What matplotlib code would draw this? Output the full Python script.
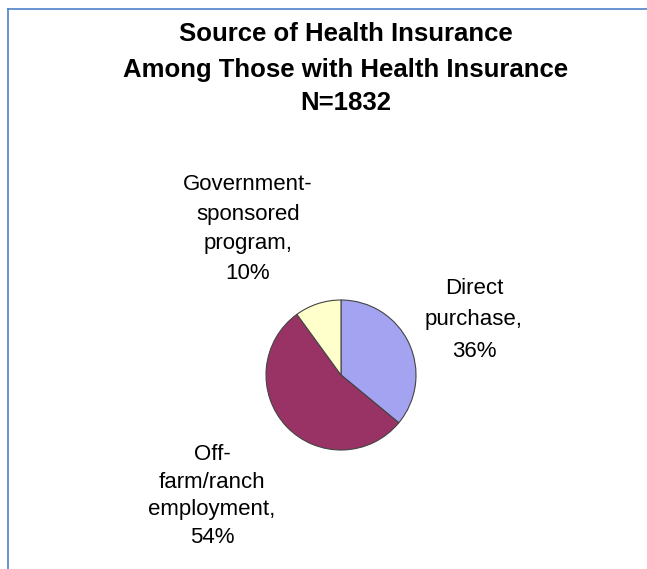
import matplotlib.pyplot as plt
from matplotlib.lines import Line2D

title_lines = ['Source of Health Insurance', 'Among Those with Health Insurance', 'N=1832']
categories = ['Direct purchase', 'Off-farm/ranch employment', 'Government-sponsored program']
shares = [36, 54, 10]
label_texts = ['Direct\npurchase,\n36%', 'Off-\nfarm/ranch\nemployment,\n54%',
               'Government-\nsponsored\nprogram,\n10%']
colors = ['#A3A3F2', '#993366', '#FFFFCC']

plt.rcParams['font.family'] = ['Liberation Sans', 'DejaVu Sans']

W, H = 647, 569
fig = plt.figure(figsize=(W / 100, H / 100), dpi=100)
fig.patch.set_facecolor('white')

# blue frame on top and left edge
fig.add_artist(Line2D([8 / W, 8 / W], [0, 1 - 9 / H], color='#4F81C9', lw=1.2))
fig.add_artist(Line2D([8 / W, 1], [1 - 9 / H, 1 - 9 / H], color='#4F81C9', lw=1.2))

for txt, y in zip(title_lines, [34, 70, 103]):
    fig.text(346 / W, 1 - y / H, txt, ha='center', va='center',
             fontsize=18.5, fontweight='bold')

# pie
cx, cy, r = 341, 375, 75
ax = fig.add_axes([(cx - r) / W, 1 - (cy + r) / H, 2 * r / W, 2 * r / H])
ax.pie(shares, colors=colors, startangle=90, counterclock=False,
       wedgeprops=dict(edgecolor='#444444', linewidth=0.8))
ax.set_xlim(-1, 1)
ax.set_ylim(-1, 1)
ax.set_aspect('auto')
ax.axis('off')

label_pos = [(474, 320), (212, 496), (248, 229)]
spacing = [1.65, 1.4, 1.55]
for txt, (x, y), ls in zip(label_texts, label_pos, spacing):
    fig.text(x / W, 1 - y / H, txt, ha='center', va='center',
             fontsize=16, linespacing=ls)

fig.savefig('out.png', dpi=100)
